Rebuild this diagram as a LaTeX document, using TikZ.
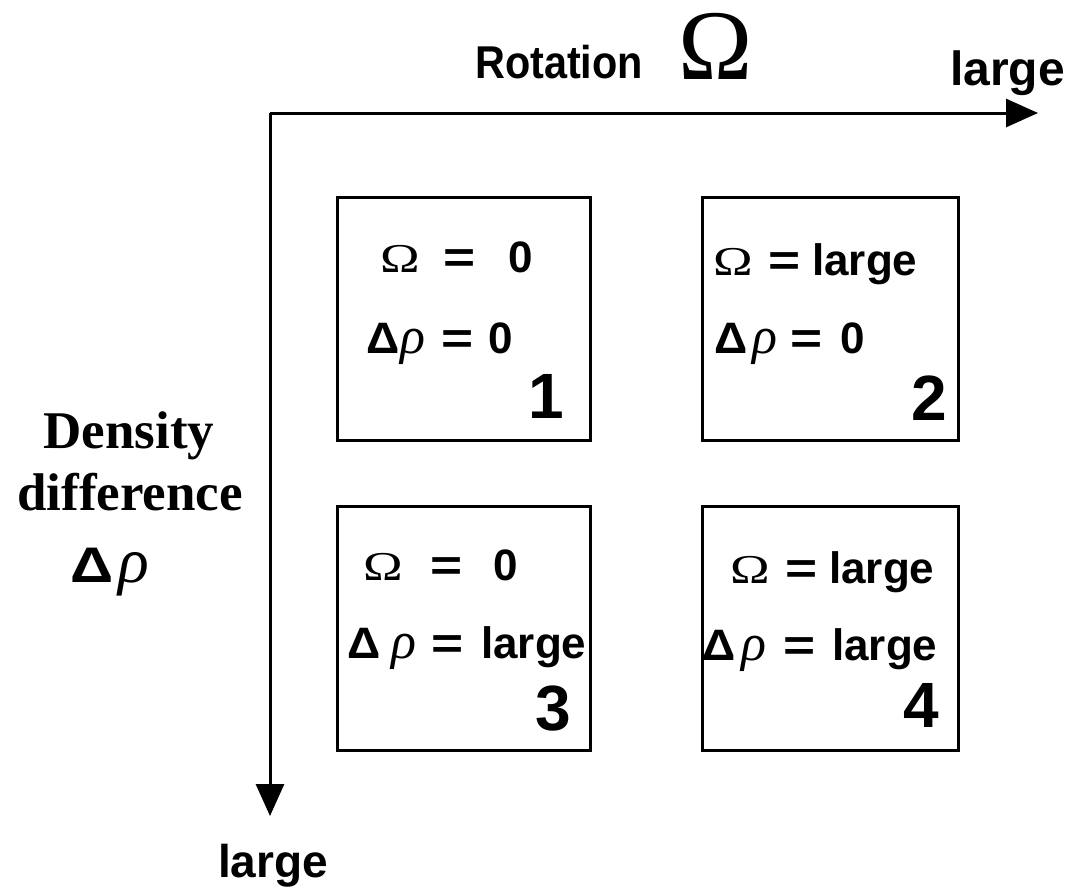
\documentclass[tikz,border=0pt]{standalone}
\usepackage{fontspec}
\usepackage{graphicx}
\setmainfont{Liberation Serif}
\newfontfamily\asans{Liberation Sans}
\usetikzlibrary{arrows.meta}
\newcommand{\Om}{\scalebox{1.3}[1]{\rmfamily\mdseries\fontsize{41}{44}\selectfont\char"03A9}}
\newcommand{\Dl}{\scalebox{1.05}[1]{\asans\bfseries\fontsize{44}{48}\selectfont\char"0394}}
\newcommand{\Rh}{{\rmfamily\mdseries\itshape\fontsize{52}{54}\selectfont\char"03C1}}
\newcommand{\Eqs}{\scalebox{1.25}[1]{=}}
\begin{document}
\begin{tikzpicture}[x=1pt,y=-1pt,
  axis/.style={line width=3pt,-{Triangle[length=32pt,width=28pt]}},
  cell/.style={draw,line width=3pt},
  eq/.style={inner sep=0pt,anchor=base west,font=\asans\bfseries\fontsize{44}{48}\selectfont},
  num/.style={inner sep=0pt,anchor=base east,font=\asans\bfseries\fontsize{64}{68}\selectfont},
  lab/.style={inner sep=0pt,anchor=base west,font=\asans\bfseries\fontsize{48}{52}\selectfont},
  dens/.style={inner sep=0pt,anchor=base,font=\rmfamily\bfseries\fontsize{53}{58}\selectfont}]
\useasboundingbox (0,0) rectangle (1083,894);
\coordinate (O) at (270,113);
\coordinate (X) at (1038,113);
\coordinate (Y) at (270,816);
\draw[axis] (O) -- (X);
\draw[axis] (O) -- (Y);
% axis labels
\node[lab,font=\asans\bfseries\fontsize{46}{50}\selectfont] (rot) at (475,78) {\scalebox{0.9}[1]{Rotation}};
\node[inner sep=0pt,anchor=base west,font=\rmfamily\fontsize{100}{104}\selectfont] (romega) at (678,79) {\char"03A9};
\node[lab] (xlarge) at (950,85) {large};
\node[lab,font=\asans\bfseries\fontsize{46}{50}\selectfont] (ylarge) at (218,877) {large};
\node[dens] (d1) at (129,448) {Density};
\node[dens] (d2) at (130,510) {difference};
\node[inner sep=0pt,anchor=base west] (d3a) at (70,582) {\scalebox{1.2}[1]{\asans\bfseries\fontsize{50}{54}\selectfont\char"0394}};
\node[inner sep=0pt,anchor=base west,font=\rmfamily\itshape\fontsize{64}{68}\selectfont] (d3b) at (118,582) {\char"03C1};
% boxes
\draw[cell] (337,197) rectangle (590,440);
\draw[cell] (702,197) rectangle (958,440);
\draw[cell] (337,506) rectangle (590,750);
\draw[cell] (702,506) rectangle (958,750);
% box 1
\node[eq] (a1o) at (380,272) {\Om};
\node[eq] (a1e) at (443,272) {\Eqs};
\node[eq] (a1r) at (508,272) {0};
\node[eq] (b1d) at (366,353) {\Dl};
\node[eq] (b1p) at (400,353) {\Rh};
\node[eq] (b1e) at (441,353) {\Eqs};
\node[eq] (b1r) at (488,353) {0};
\node[num] (n1) at (564,418) {1};
% box 2
\node[eq] (a2o) at (713,275) {\Om};
\node[eq] (a2e) at (768,275) {\Eqs};
\node[eq] (a2r) at (812,275) {large};
\node[eq] (b2d) at (714,353) {\Dl};
\node[eq] (b2p) at (752,353) {\Rh};
\node[eq] (b2e) at (790,353) {\Eqs};
\node[eq] (b2r) at (840,353) {0};
\node[num] (n2) at (947,420) {2};
% box 3
\node[eq] (a3o) at (363,580) {\Om};
\node[eq] (a3e) at (430,580) {\Eqs};
\node[eq] (a3r) at (493,580) {0};
\node[eq] (b3d) at (347,658) {\Dl};
\node[eq] (b3p) at (391,658) {\Rh};
\node[eq] (b3e) at (431,658) {\Eqs};
\node[eq] (b3r) at (481,658) {large};
\node[num] (n3) at (571,730) {3};
% box 4
\node[eq] (a4o) at (730,583) {\Om};
\node[eq] (a4e) at (785,583) {\Eqs};
\node[eq] (a4r) at (829,583) {large};
\node[eq] (b4d) at (702,660) {\Dl};
\node[eq] (b4p) at (741,660) {\Rh};
\node[eq] (b4e) at (783,660) {\Eqs};
\node[eq] (b4r) at (832,660) {large};
\node[num] (n4) at (939,727) {4};
\end{tikzpicture}
\end{document}
